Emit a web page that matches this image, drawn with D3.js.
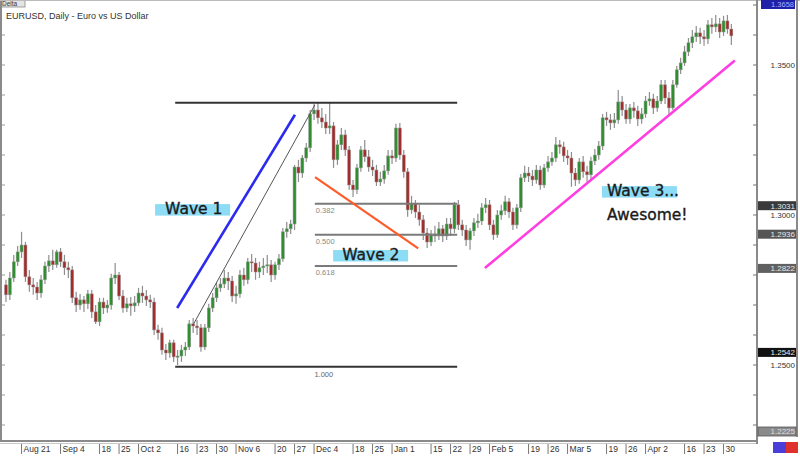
<!DOCTYPE html>
<html><head><meta charset="utf-8">
<script src="https://cdn.jsdelivr.net/npm/d3@7"></script>
<style>body{margin:0;background:#fff}svg{display:block}</style>
</head><body><svg id="c" width="800" height="456"></svg>
<script>
// ---------- DATA ----------
const title = "EURUSD, Daily - Euro vs US Dollar";
const startDate = "2017-08-15", endDate = "2018-05-02"; // daily (weekday) candles
const firstOpen = 1.2767;
const closes = [1.2734,1.2790,1.2844,1.2877,1.2900,1.2794,1.2767,1.2760,1.2740,1.2784,
1.2830,1.2847,1.2834,1.2877,1.2844,1.2824,1.2817,1.2724,1.2700,1.2717,
1.2704,1.2737,1.2677,1.2644,1.2710,1.2690,1.2700,1.2790,1.2800,1.2730,
1.2690,1.2704,1.2697,1.2707,1.2740,1.2730,1.2717,1.2710,1.2617,1.2607,
1.2550,1.2540,1.2574,1.2527,1.2530,1.2550,1.2560,1.2637,1.2630,1.2624,
1.2560,1.2624,1.2690,1.2724,1.2757,1.2770,1.2790,1.2780,1.2730,1.2737,
1.2800,1.2784,1.2844,1.2840,1.2810,1.2824,1.2830,1.2834,1.2800,1.2834,
1.2854,1.2944,1.2954,1.2970,1.3160,1.3140,1.3190,1.3224,1.3337,1.3350,
1.3324,1.3310,1.3290,1.3297,1.3184,1.3234,1.3267,1.3217,1.3100,1.3084,
1.3157,1.3217,1.3194,1.3160,1.3150,1.3110,1.3120,1.3147,1.3197,1.3190,
1.3290,1.3200,1.3144,1.3017,1.3037,1.3010,1.2984,1.2940,1.2910,1.2937,
1.2930,1.2954,1.2930,1.2970,1.2954,1.3034,1.2967,1.2950,1.2917,1.2947,
1.2974,1.2980,1.3024,1.3034,1.2967,1.2934,1.3000,1.3014,1.3044,1.3010,
1.2967,1.3024,1.3124,1.3140,1.3130,1.3117,1.3150,1.3100,1.3157,1.3177,
1.3190,1.3234,1.3227,1.3197,1.3190,1.3140,1.3117,1.3177,1.3144,1.3134,
1.3180,1.3200,1.3230,1.3324,1.3317,1.3307,1.3317,1.3377,1.3350,1.3320,
1.3357,1.3347,1.3320,1.3337,1.3380,1.3387,1.3357,1.3380,1.3434,1.3390,
1.3357,1.3434,1.3484,1.3507,1.3544,1.3574,1.3594,1.3607,1.3594,1.3587,
1.3634,1.3627,1.3637,1.3610,1.3647,1.3620,1.3597];
const highs = [1.2784,1.2810,1.2867,1.2897,1.2944,1.2910,1.2817,1.2790,1.2777,1.2800,
1.2844,1.2867,1.2884,1.2884,1.2890,1.2867,1.2844,1.2830,1.2744,1.2737,
1.2730,1.2750,1.2750,1.2700,1.2724,1.2724,1.2717,1.2804,1.2840,1.2810,
1.2750,1.2724,1.2727,1.2730,1.2757,1.2764,1.2750,1.2734,1.2724,1.2634,
1.2624,1.2570,1.2584,1.2584,1.2550,1.2567,1.2577,1.2650,1.2657,1.2650,
1.2637,1.2637,1.2704,1.2740,1.2777,1.2790,1.2817,1.2810,1.2797,1.2764,
1.2817,1.2824,1.2857,1.2870,1.2857,1.2844,1.2857,1.2867,1.2850,1.2844,
1.2870,1.2957,1.2977,1.2984,1.3167,1.3184,1.3200,1.3240,1.3350,1.3370,
1.3374,1.3357,1.3337,1.3374,1.3310,1.3250,1.3290,1.3284,1.3230,1.3117,
1.3170,1.3230,1.3250,1.3217,1.3184,1.3167,1.3144,1.3167,1.3217,1.3217,
1.3304,1.3307,1.3217,1.3157,1.3064,1.3050,1.3034,1.3000,1.2957,1.2950,
1.2964,1.2977,1.2967,1.2990,1.2990,1.3044,1.3050,1.2984,1.2967,1.2957,
1.2990,1.3004,1.3040,1.3057,1.3050,1.2984,1.3017,1.3034,1.3064,1.3057,
1.3024,1.3037,1.3137,1.3164,1.3160,1.3150,1.3167,1.3164,1.3170,1.3197,
1.3210,1.3260,1.3250,1.3244,1.3217,1.3210,1.3157,1.3190,1.3197,1.3164,
1.3194,1.3220,1.3247,1.3337,1.3344,1.3337,1.3340,1.3417,1.3397,1.3370,
1.3370,1.3377,1.3364,1.3357,1.3397,1.3410,1.3404,1.3397,1.3450,1.3450,
1.3410,1.3450,1.3497,1.3524,1.3564,1.3590,1.3617,1.3630,1.3624,1.3617,
1.3650,1.3657,1.3667,1.3657,1.3664,1.3667,1.3637];
const lows = [1.2710,1.2717,1.2777,1.2830,1.2857,1.2777,1.2744,1.2734,1.2717,1.2724,
1.2770,1.2810,1.2817,1.2824,1.2827,1.2800,1.2790,1.2707,1.2677,1.2684,
1.2677,1.2687,1.2657,1.2637,1.2630,1.2670,1.2674,1.2684,1.2770,1.2717,
1.2674,1.2677,1.2664,1.2677,1.2697,1.2707,1.2697,1.2690,1.2600,1.2584,
1.2534,1.2517,1.2524,1.2510,1.2500,1.2510,1.2530,1.2550,1.2607,1.2600,
1.2544,1.2550,1.2610,1.2677,1.2710,1.2744,1.2757,1.2750,1.2710,1.2704,
1.2724,1.2764,1.2770,1.2810,1.2784,1.2790,1.2800,1.2807,1.2777,1.2784,
1.2817,1.2844,1.2924,1.2937,1.2950,1.3110,1.3124,1.3177,1.3210,1.3317,
1.3304,1.3290,1.3270,1.3270,1.3157,1.3167,1.3217,1.3197,1.3084,1.3060,
1.3070,1.3144,1.3177,1.3144,1.3130,1.3097,1.3097,1.3104,1.3134,1.3170,
1.3177,1.3184,1.3124,1.2994,1.3004,1.2990,1.2964,1.2917,1.2890,1.2897,
1.2910,1.2917,1.2910,1.2917,1.2930,1.2940,1.2950,1.2930,1.2897,1.2884,
1.2930,1.2957,1.2967,1.3007,1.2950,1.2917,1.2924,1.2984,1.3000,1.2990,
1.2950,1.2954,1.3010,1.3110,1.3110,1.3097,1.3104,1.3084,1.3090,1.3144,
1.3164,1.3177,1.3204,1.3177,1.3167,1.3094,1.3097,1.3104,1.3124,1.3110,
1.3117,1.3167,1.3184,1.3217,1.3297,1.3284,1.3290,1.3304,1.3330,1.3304,
1.3304,1.3324,1.3297,1.3304,1.3324,1.3364,1.3337,1.3344,1.3370,1.3370,
1.3337,1.3350,1.3424,1.3470,1.3497,1.3530,1.3557,1.3577,1.3570,1.3564,
1.3570,1.3604,1.3610,1.3590,1.3597,1.3604,1.3567];

const tickLabels = ["Aug 21","Sep 4","18","25","Oct 2","16","23","30","Nov 6","20","27","Dec 4","18","25",
  "Jan 1","15","22","29","Feb 5","19","26","Mar 5","19","26","Apr 2","16","23","30"];
const tickDates = ["2017-08-21","2017-09-04","2017-09-18","2017-09-25","2017-10-02","2017-10-16","2017-10-23","2017-10-30",
  "2017-11-06","2017-11-20","2017-11-27","2017-12-04","2017-12-18","2017-12-25","2018-01-01","2018-01-15","2018-01-22",
  "2018-01-29","2018-02-05","2018-02-19","2018-02-26","2018-03-05","2018-03-19","2018-03-26","2018-04-02","2018-04-16",
  "2018-04-23","2018-04-30"];
const priceLabels = [1.35, 1.30, 1.25];
const tagValues = [1.3031, 1.2936, 1.2822, 1.2542];
const tagTexts = ["1.3031", "1.2936", "1.2822", "1.2542"];
const bottomTag = "1.2225", topTag = "1.3658";

// Fibonacci retracement of wave 1
const fibHigh = 1.3374, fibLow = 1.2494;
const fibRatios = [0.382, 0.5, 0.618];
const fibTexts = ["0.382", "0.500", "0.618"];
const fibBaseText = "1.000";

// hand-drawn trend lines: [candle index, price] endpoints
const wave1Line = [[43.9, 1.2690], [74.1, 1.3334]];
const guideLine = [[48.0, 1.2634], [79.2, 1.3367]];
const wave2Line = [[79.25, 1.3126], [105.7, 1.2889]];
const wave3Line = [[122.8, 1.2823], [186.9, 1.3515]];

const annoTexts = ["Wave 1", "Wave 2", "Wave 3...", "Awesome!"];
const annoIdx = [40.8, 86.2, 154.1, 154.1];
const annoPrice = [1.3003, 1.2850, 1.3063, 1.2983];
const annoBoxed = [true, true, true, false];

// ---------- CHART ----------
const svg = d3.select("#c");
const P = {left: 2, right: 757, top: 1, bottom: 441};

const dates = d3.utcDay.range(new Date(startDate + "T00:00Z"), d3.utcDay.offset(new Date(endDate + "T00:00Z"), 1))
  .filter(d => d.getUTCDay() !== 0 && d.getUTCDay() !== 6);
const x = d3.scaleBand().domain(dates.map(d => +d)).range([4, 4 + dates.length * 3.9]);
const xc = d => x(+d) + x.bandwidth() / 2;
const xi = i => x.range()[0] + (i + 0.5) * x.step();
const y = d3.scaleLinear().domain([1.25, 1.35]).range([365, 65]);

const opens = [firstOpen].concat(closes.slice(0, -1));
const candles = dates.map((d, i) => ({d, o: opens[i], c: closes[i], h: highs[i], l: lows[i]}));

svg.append("rect").attr("width", 800).attr("height", 456).attr("fill", "#fff");

const defs = svg.append("defs");
defs.append("clipPath").attr("id", "clip").append("rect")
  .attr("x", P.left).attr("y", P.top).attr("width", P.right - P.left).attr("height", P.bottom - P.top);
const g = svg.append("g").attr("clip-path", "url(#clip)");

// candles
const cg = g.append("g");
cg.selectAll("line.w").data(candles).join("line")
  .attr("x1", d => xc(d.d)).attr("x2", d => xc(d.d))
  .attr("y1", d => y(Math.max(d.h, d.o, d.c))).attr("y2", d => y(Math.min(d.l, d.o, d.c)))
  .attr("stroke", "#8e8e8e").attr("stroke-width", 1.2);
cg.selectAll("rect.b").data(candles).join("rect")
  .attr("x", d => xc(d.d) - 1.5).attr("width", 3)
  .attr("y", d => y(Math.max(d.o, d.c)))
  .attr("height", d => Math.max(1.2, Math.abs(y(d.o) - y(d.c))))
  .attr("fill", d => d.c >= d.o ? "#2f8f2f" : "#a12d2d")
  .attr("stroke", "#9a9a9a").attr("stroke-width", 0.5);

// fib lines
const fibX0 = 43.4, fibX1 = 115.7, fibMidX0 = 79.2;
const lineFn = d3.line().x(p => xi(p[0])).y(p => y(p[1]));
g.append("path").attr("d", lineFn([[fibX0, fibHigh], [fibX1, fibHigh]])).attr("stroke", "#333").attr("stroke-width", 2);
g.append("path").attr("d", lineFn([[fibX0, fibLow], [fibX1, fibLow]])).attr("stroke", "#333").attr("stroke-width", 2);
g.append("text").attr("x", xi(81.5)).attr("y", y(fibLow) + 10).attr("text-anchor", "middle")
  .attr("font-family", "Liberation Sans, Arial, sans-serif").attr("font-size", 7.5).attr("fill", "#666").text(fibBaseText);
fibRatios.forEach((r, k) => {
  const v = fibHigh - r * (fibHigh - fibLow);
  g.append("path").attr("d", lineFn([[fibMidX0, v], [fibX1, v]])).attr("stroke", "#7a7a7a").attr("stroke-width", 2);
  g.append("text").attr("x", xi(fibMidX0) + 1).attr("y", y(v) + 9)
    .attr("font-family", "Liberation Sans, Arial, sans-serif").attr("font-size", 7.5).attr("fill", "#888").text(fibTexts[k]);
});

// trend lines
g.append("path").attr("d", lineFn(guideLine)).attr("stroke", "#555").attr("stroke-width", 1).attr("fill", "none");
g.append("path").attr("d", lineFn(wave1Line)).attr("stroke", "#2b2bef").attr("stroke-width", 2.6).attr("fill", "none");
g.append("path").attr("d", lineFn(wave2Line)).attr("stroke", "#ff5a28").attr("stroke-width", 2.2).attr("fill", "none");
g.append("path").attr("d", lineFn(wave3Line)).attr("stroke", "#ff3de0").attr("stroke-width", 2.6).attr("fill", "none");

// wave labels
annoTexts.forEach((t, k) => {
  const tx = xi(annoIdx[k]), ty = y(annoPrice[k]);
  if (annoBoxed[k]) {
    g.append("rect").attr("x", tx - (k === 1 ? 9 : (k === 2 ? 5 : 10))).attr("y", ty - 10)
      .attr("width", 75).attr("height", 11.5).attr("fill", "#8ddcf6");
  }
  g.append("text").attr("x", tx).attr("y", ty)
    .attr("font-family", "DejaVu Sans, sans-serif").attr("font-size", 15.5)
    .attr("fill", "#1a1a1a").attr("stroke", "#1a1a1a").attr("stroke-width", 0.35).text(t);
});

// title + tab
svg.append("rect").attr("x", 0).attr("y", -2).attr("width", 25).attr("height", 9).attr("fill", "#e4e4e4").attr("stroke", "#888").attr("stroke-width", 0.8);
svg.append("text").attr("x", 2).attr("y", 5.5).attr("font-family", "Liberation Sans, Arial, sans-serif").attr("font-size", 6.5).attr("fill", "#333").text("Delta");
svg.append("text").attr("x", 6).attr("y", 19).attr("font-family", "Liberation Sans, Arial, sans-serif")
  .attr("font-size", 9).attr("fill", "#333").text(title);

// frame
const frame = svg.append("g").attr("stroke", "#8a8a8a").attr("stroke-width", 2);
frame.append("line").attr("x1", 1).attr("x2", 1).attr("y1", 0).attr("y2", P.bottom);
frame.append("line").attr("x1", 0).attr("x2", 800).attr("y1", 0.5).attr("y2", 0.5).attr("stroke-width", 1).attr("stroke", "#bbb");
frame.append("line").attr("x1", 0).attr("x2", P.right).attr("y1", P.bottom).attr("y2", P.bottom);
frame.append("line").attr("x1", 0).attr("x2", P.right).attr("y1", P.bottom + 2.5).attr("y2", P.bottom + 2.5).attr("stroke", "#c8c8c8").attr("stroke-width", 1);
frame.append("line").attr("x1", P.right).attr("x2", P.right).attr("y1", 0).attr("y2", P.bottom + 3);
frame.append("line").attr("x1", 797).attr("x2", 797).attr("y1", 0).attr("y2", 437);

// right axis ticks
const yTicks = d3.ticks(y.invert(P.bottom), y.invert(P.top), 15);
svg.append("g").selectAll("line").data(yTicks).join("line")
  .attr("x1", P.right - 4).attr("x2", P.right).attr("y1", d => y(d)).attr("y2", d => y(d))
  .attr("stroke", "#777").attr("stroke-width", 1);
svg.append("g").selectAll("line").data(yTicks).join("line")
  .attr("x1", P.left).attr("x2", P.left + 3).attr("y1", d => y(d)).attr("y2", d => y(d))
  .attr("stroke", "#999").attr("stroke-width", 1);
svg.append("g").selectAll("text").data(priceLabels).join("text")
  .attr("x", 795).attr("y", d => y(d) + 3).attr("text-anchor", "end")
  .attr("font-family", "Liberation Sans, Arial, sans-serif").attr("font-size", 8).attr("fill", "#333")
  .text(d => d3.format(".4f")(d));

// price tags
const tagFill = ["#3a3a3a", "#555", "#606060", "#111"];
tagValues.forEach((v, k) => {
  svg.append("rect").attr("x", 758).attr("y", y(v) - 4.5).attr("width", 38).attr("height", 9).attr("fill", tagFill[k]);
  svg.append("text").attr("x", 795).attr("y", y(v) + 3).attr("text-anchor", "end")
    .attr("font-family", "Liberation Sans, Arial, sans-serif").attr("font-size", 8).attr("fill", "#e8e8e8").text(tagTexts[k]);
});
svg.append("rect").attr("x", 758).attr("y", 427).attr("width", 38).attr("height", 9).attr("fill", "#8a8a8a").attr("stroke", "#555").attr("stroke-width", 0.8);
svg.append("text").attr("x", 795).attr("y", 434.3).attr("text-anchor", "end")
  .attr("font-family", "Liberation Sans, Arial, sans-serif").attr("font-size", 8).attr("fill", "#ddd").text(bottomTag);
svg.append("rect").attr("x", 761).attr("y", 0).attr("width", 34).attr("height", 9).attr("fill", "#1f1fa8");
svg.append("text").attr("x", 794).attr("y", 7.3).attr("text-anchor", "end")
  .attr("font-family", "Liberation Sans, Arial, sans-serif").attr("font-size", 7.5).attr("fill", "#aab0ff").text(topTag);
svg.append("rect").attr("x", 773).attr("y", 442).attr("width", 13).attr("height", 11).attr("fill", "#4a3fd8");
svg.append("rect").attr("x", 786).attr("y", 442).attr("width", 12).attr("height", 11).attr("fill", "#e0302c");

// x axis labels
const xt = svg.append("g");
tickDates.forEach((s, k) => {
  const px = xc(new Date(s + "T00:00Z"));
  xt.append("line").attr("x1", px).attr("x2", px).attr("y1", 444).attr("y2", 454).attr("stroke", "#777").attr("stroke-width", 1);
  xt.append("text").attr("x", px + 2).attr("y", 452).attr("font-family", "Liberation Sans, Arial, sans-serif")
    .attr("font-size", 8.5).attr("fill", "#333").text(tickLabels[k]);
});
</script></body></html>
